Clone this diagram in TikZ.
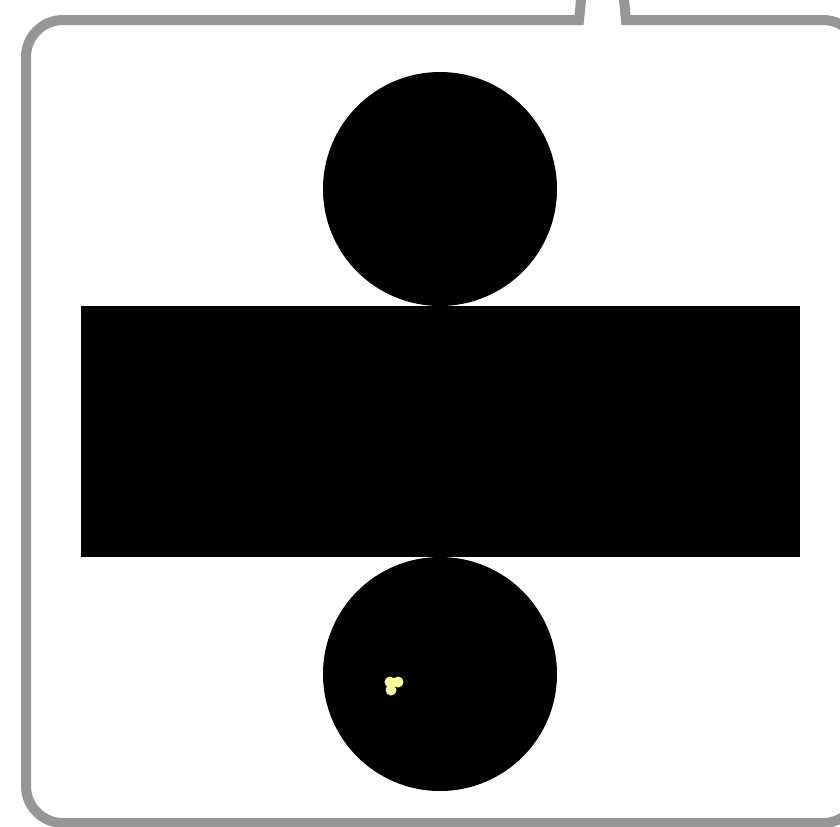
\documentclass[tikz,border=0pt]{standalone}
\definecolor{framegray}{HTML}{969696}
\definecolor{blobyellow}{HTML}{FFFF99}
\begin{document}
\begin{tikzpicture}[x=0.75pt,y=-0.75pt,
  frameline/.style={draw=framegray,line width=7.5pt,line join=miter},
  netpart/.style={fill=black,draw=none}]
\useasboundingbox (0,0) rectangle (840,826);
\clip (0,0) rectangle (840,826);
% speech bubble frame
\draw[frameline]
  (583,-20) -- (579,20) -- (63,20)
  arc[start angle=270,end angle=180,radius=37] -- (26,786)
  arc[start angle=180,end angle=90,radius=37] -- (823,823)
  arc[start angle=90,end angle=0,radius=37] -- (860,57)
  arc[start angle=360,end angle=270,radius=37] -- (626,20) -- (622,-20);
% net of a cylinder
\fill[netpart] (440,189) circle[radius=117];
\fill[netpart] (81,306) rectangle (800,557);
\fill[netpart] (440,674) circle[radius=117];
% small yellow speck
\fill[blobyellow] (390,682) circle[radius=5.5];
\fill[blobyellow] (398,682) circle[radius=5.5];
\fill[blobyellow] (391,690) circle[radius=5.5];
\end{tikzpicture}
\end{document}
